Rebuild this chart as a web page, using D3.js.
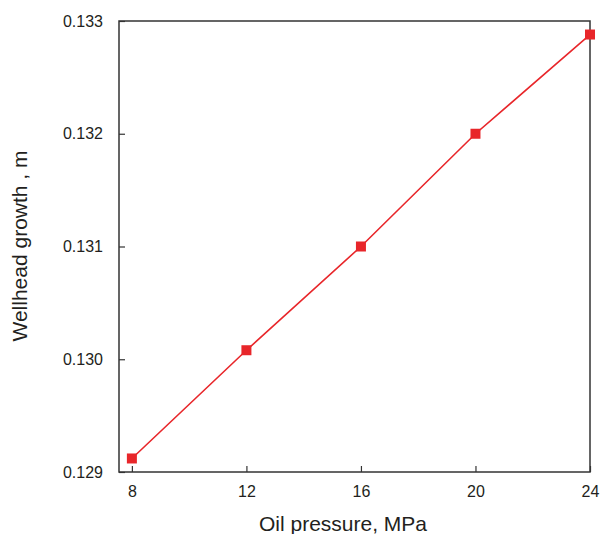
<!DOCTYPE html>
<html>
<head>
<meta charset="utf-8">
<script src="https://cdn.jsdelivr.net/npm/d3@7"></script>
<style>
body { margin: 0; background: #fff; }
text { font-family: "Liberation Sans", Arial, sans-serif; fill: #231f20; }
</style>
</head>
<body>
<div id="chart"></div>
<script>
var pressure = [8, 12, 16, 20, 24];
var growth = [0.12912, 0.13008, 0.1310, 0.1320, 0.13288];
var xTicks = [8, 12, 16, 20, 24];
var yTicks = [0.129, 0.130, 0.131, 0.132, 0.133];

var width = 601, height = 534;
var plotLeft = 119, plotRight = 590, plotTop = 21, plotBottom = 472;

var svg = d3.select("#chart").append("svg")
	.attr("width", width)
	.attr("height", height);

var x = d3.scaleLinear().domain([7.55, 24]).range([plotLeft, plotRight]);
var y = d3.scaleLinear().domain([0.129, 0.133]).range([plotBottom, plotTop]);

// frame
svg.append("rect")
	.attr("x", plotLeft).attr("y", plotTop)
	.attr("width", plotRight - plotLeft).attr("height", plotBottom - plotTop)
	.attr("fill", "none").attr("stroke", "#333").attr("stroke-width", 1.5);

var xAxis = svg.append("g")
	.attr("transform", "translate(0," + plotBottom + ")")
	.call(d3.axisBottom(x).tickValues(xTicks).tickSizeInner(-6).tickSizeOuter(0).tickPadding(14).tickFormat(d3.format("d")));
var yAxis = svg.append("g")
	.attr("transform", "translate(" + plotLeft + ",0)")
	.call(d3.axisLeft(y).tickValues(yTicks).tickSizeInner(-6).tickSizeOuter(0).tickPadding(16).tickFormat(d3.format(".3f")));

[xAxis, yAxis].forEach(function(a) {
	a.select(".domain").remove();
	a.selectAll(".tick line").attr("stroke", "#333").attr("stroke-width", 1.2);
	a.selectAll(".tick text").style("font-size", "16px").attr("fill", "#231f20")
		.style("font-family", "'Liberation Sans', Arial, sans-serif");
});

var line = d3.line()
	.x(function(d, i) { return x(pressure[i]); })
	.y(function(d) { return y(d); });

svg.append("path")
	.datum(growth)
	.attr("d", line)
	.attr("fill", "none")
	.attr("stroke", "#e8262a")
	.attr("stroke-width", 1.6);

svg.selectAll("rect.pt")
	.data(growth)
	.enter().append("rect")
	.attr("class", "pt")
	.attr("x", function(d, i) { return x(pressure[i]) - 5; })
	.attr("y", function(d) { return y(d) - 5; })
	.attr("width", 10).attr("height", 10)
	.attr("fill", "#e8262a");

svg.append("text")
	.attr("x", 343).attr("y", 531)
	.attr("text-anchor", "middle")
	.style("font-size", "21px")
	.text("Oil pressure, MPa");

svg.append("text")
	.attr("transform", "translate(27,246) rotate(-90)")
	.attr("text-anchor", "middle")
	.style("font-size", "21px")
	.text("Wellhead growth , m");
</script>
</body>
</html>
